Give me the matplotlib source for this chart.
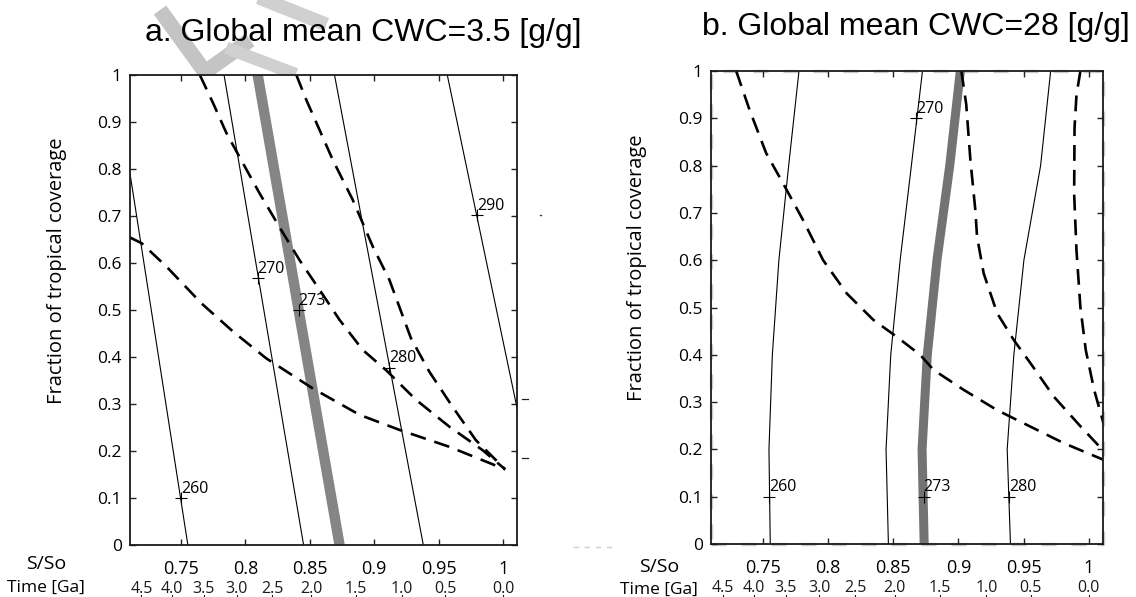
import numpy as np
import matplotlib
matplotlib.use("Agg")
import matplotlib.pyplot as plt
import matplotlib.transforms as mtransforms
from matplotlib.lines import Line2D

# =========================
# DATA
# =========================
ss_ticks = [0.75, 0.8, 0.85, 0.9, 0.95, 1.0]
ss_labels = ["0.75", "0.8", "0.85", "0.9", "0.95", "1"]
y_ticks = [0, 0.1, 0.2, 0.3, 0.4, 0.5, 0.6, 0.7, 0.8, 0.9, 1.0]
y_labels = ["0", "0.1", "0.2", "0.3", "0.4", "0.5", "0.6", "0.7", "0.8", "0.9", "1"]

# time axis (S/So position of each age tick)
time_pos = [0.7194, 0.7431, 0.7676, 0.7933, 0.8208, 0.8512, 0.8856, 0.9214, 0.9553, 1.0]
time_labels = ["4.5", "4.0", "3.5", "3.0", "2.5", "2.0", "1.5", "1.0", "0.5", "0.0"]

# ---- panel a: CWC = 3.5 ----
a_y2 = [1.0, 0.0]
a_260 = [0.6986, 0.7554]
a_270 = [0.7835, 0.8452]
a_280 = [0.8692, 0.9381]
a_290 = [0.9567, 1.0331]
a_273 = [0.8096, 0.8731]

a_dA_x = [0.7647, 0.7750, 0.7854, 0.7982, 0.8111, 0.8279, 0.8421, 0.8576, 0.8731,
          0.8911, 0.9092, 0.9324, 0.9582, 0.9840, 1.0016]
a_dA_y = [1.0, 0.940, 0.876, 0.812, 0.748, 0.670, 0.606, 0.543, 0.479,
          0.415, 0.372, 0.309, 0.252, 0.202, 0.161]
a_dB_x = [0.8396, 0.8473, 0.8576, 0.8679, 0.8834, 0.8989, 0.9118, 0.9285, 0.9427,
          0.9608, 0.9789, 0.9969, 1.0016]
a_dB_y = [1.0, 0.947, 0.883, 0.819, 0.734, 0.635, 0.564, 0.440, 0.369,
          0.294, 0.223, 0.174, 0.161]
a_dC_x = [0.7100, 0.7196, 0.7389, 0.7660, 0.7905, 0.8163, 0.8524, 0.8886, 0.9195,
          0.9582, 1.0016]
a_dC_y = [0.655, 0.642, 0.592, 0.514, 0.454, 0.397, 0.333, 0.277, 0.245,
          0.209, 0.161]

a_marks = {"260": (0.7500, 0.100), "270": (0.8096, 0.568), "273": (0.8413, 0.500),
           "280": (0.9118, 0.377), "290": (0.9799, 0.702)}

# ---- panel b: CWC = 28 ----
b_y6 = [0.0, 0.2, 0.4, 0.6, 0.8, 1.0]
b_260 = [0.7559, 0.7549, 0.7575, 0.7625, 0.7700, 0.7779]
b_270 = [0.8464, 0.8446, 0.8482, 0.8554, 0.8640, 0.8725]
b_280 = [0.9399, 0.9374, 0.9425, 0.9502, 0.9630, 0.9707]
b_273 = [0.8738, 0.8722, 0.8762, 0.8836, 0.8934, 0.9015]

b_dA_x = [0.7298, 0.7400, 0.7528, 0.7656, 0.7810, 0.7964, 0.8144, 0.8348, 0.8528,
          0.8707, 0.8810, 0.9040, 0.9297, 0.9553, 0.9809, 1.0112]
b_dA_y = [1.0, 0.918, 0.826, 0.763, 0.685, 0.600, 0.530, 0.474, 0.438,
          0.400, 0.368, 0.326, 0.283, 0.248, 0.213, 0.178]
b_dB_x = [0.9023, 0.9060, 0.9092, 0.9130, 0.9143, 0.9194, 0.9297, 0.9425, 0.9553,
          0.9733, 0.9938, 1.0105]
b_dB_y = [1.0, 0.930, 0.812, 0.706, 0.650, 0.572, 0.488, 0.431, 0.382,
          0.311, 0.248, 0.199]
b_dC_x = [0.9935, 0.9905, 0.9890, 0.9887, 0.9905, 0.9935, 0.9976, 1.0040, 1.0112]
b_dC_y = [1.0, 0.950, 0.880, 0.740, 0.620, 0.500, 0.410, 0.326, 0.255]

b_marks = {"260": (0.7549, 0.100), "270": (0.8674, 0.900), "273": (0.8733, 0.100),
           "280": (0.9387, 0.100)}

XLIM = (0.7105, 1.0108)

FONT = "Open Sans"
plt.rcParams["font.family"] = [FONT, "DejaVu Sans"]

fig = plt.figure(figsize=(11.36, 5.97), dpi=100)
W, H = 1136, 597

ax_a = fig.add_axes([130 / W, 52 / H, 387 / W, 470 / H])
ax_b = fig.add_axes([711 / W, 53 / H, 392 / W, 473 / H])

dash = (6, 3.4)


def setup(ax):
    ax.set_xlim(*XLIM)
    ax.set_ylim(0, 1)
    ax.set_xticks(ss_ticks)
    ax.set_xticklabels(ss_labels, fontsize=13)
    ax.set_yticks(y_ticks)
    ax.set_yticklabels(y_labels, fontsize=12.5)
    ax.tick_params(direction="in", length=4, width=1.0, top=True, right=True,
                   color="#222222")
    ax.tick_params(axis="x", pad=11)
    ax.tick_params(axis="y", pad=6)
    for s in ax.spines.values():
        s.set_linewidth(1.3)
        s.set_color("#1a1a1a")
        s.set_zorder(5)
    ax.set_ylabel("Fraction of tropical coverage", fontsize=14.5)
    ax.yaxis.set_label_coords(-0.163, 0.583)
    # time axis below
    trans = mtransforms.blended_transform_factory(ax.transData, ax.transAxes)
    for p, lab in zip(time_pos, time_labels):
        ax.text(p, -0.093, lab, transform=trans, ha="center", va="center",
                fontsize=11.5, color="#1a1a1a")
        ax.add_line(Line2D([p, p], [-0.107, -0.125], transform=trans,
                           color="#1a1a1a", lw=0.8, clip_on=False))


def marks(ax, d):
    for lab, (mx, my) in d.items():
        ax.plot(mx, my, marker="+", ms=9, mew=0.8, color="black", zorder=4)
        ax.annotate(lab, (mx, my), xytext=(0, 1), textcoords="offset points",
                    ha="left", va="bottom", fontsize=11.5, zorder=4)


# =========================
# PANEL A
# =========================
setup(ax_a)
for xs in [a_260, a_270, a_280, a_290]:
    ax_a.plot(xs, a_y2, color="black", lw=0.8, zorder=3)
ax_a.plot(a_273, a_y2, color="#858585", lw=7.5, solid_capstyle="butt", zorder=2)
for xs, ys in [(a_dA_x, a_dA_y), (a_dB_x, a_dB_y), (a_dC_x, a_dC_y)]:
    ax_a.plot(xs, ys, color="black", lw=1.9, dashes=dash, zorder=3)
marks(ax_a, a_marks)

# =========================
# PANEL B
# =========================
setup(ax_b)
# light gray dashed frame hiding under the spines
ax_b.plot([XLIM[0], XLIM[1], XLIM[1], XLIM[0], XLIM[0]], [0, 0, 1, 1, 0],
          color="#cacaca", lw=2.4, dashes=(4.5, 4.5), clip_on=False, zorder=1)
for xs in [b_260, b_270, b_280]:
    ax_b.plot(xs, b_y6, color="black", lw=0.8, zorder=3)
ax_b.plot(b_273, b_y6, color="#737373", lw=6.5, solid_capstyle="butt", zorder=2)
for xs, ys in [(b_dA_x, b_dA_y), (b_dB_x, b_dB_y), (b_dC_x, b_dC_y)]:
    ax_b.plot(xs, ys, color="black", lw=1.9, dashes=dash, zorder=3)
marks(ax_b, b_marks)

# =========================
# TITLES / AXIS NAMES
# =========================
fig.text(363 / W, 1 - 41 / H, "a. Global mean CWC=3.5 [g/g]", ha="center",
         va="baseline", fontsize=23, family="Liberation Sans")
fig.text(916 / W, 1 - 35 / H, "b. Global mean CWC=28 [g/g]", ha="center",
         va="baseline", fontsize=23, family="Liberation Sans")
for cx, y1, y2 in [(46, 564, 588), (659, 567, 590)]:
    fig.text(cx / W, 1 - y1 / H, "S/So", ha="center", va="center", fontsize=14)
    fig.text(cx / W, 1 - y2 / H, "Time [Ga]", ha="center", va="center",
             fontsize=12.5)

# stray marks from the scan
for (x0, x1, yy) in [(522, 528, 399), (522, 528, 458)]:
    fig.add_artist(Line2D([x0 / W, x1 / W], [1 - yy / H, 1 - yy / H], color="#222222",
                          lw=0.9))
fig.add_artist(Line2D([540 / W, 541 / W], [1 - 215 / H, 1 - 215 / H], color="#444444",
                      lw=1.0))
fig.add_artist(Line2D([573 / W, 615 / W], [1 - 547 / H, 1 - 547 / H], color="#d0d0d0",
                      lw=1.0, dashes=(4, 4)))

# faint watermark in the top-left corner
wm_x = [160, 205, 250]
wm_y = [10, 72, 40]
fig.add_artist(Line2D([v / W for v in wm_x], [1 - v / H for v in wm_y],
                      color="#c4c4c4", lw=11, zorder=0, solid_capstyle="butt"))
fig.add_artist(Line2D([232 / W, 290 / W], [1 - 50 / H, 1 - 72 / H],
                      color="#d0d0d0", lw=9, zorder=0))
fig.add_artist(Line2D([265 / W, 320 / W], [1 - 0 / H, 1 - 22 / H],
                      color="#d0d0d0", lw=10, zorder=0))

fig.savefig("out.png", dpi=100)
